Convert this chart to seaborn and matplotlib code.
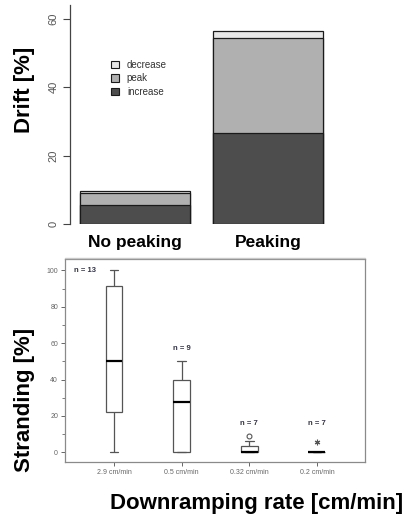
import numpy as np
import pandas as pd
import seaborn as sns
import matplotlib.pyplot as plt
from matplotlib.patches import Patch
from matplotlib.lines import Line2D

# Drift data (stacked, %)
groups = ["No peaking", "Peaking"]
increase = [5.6, 26.5]
peak = [3.6, 27.9]
decrease = [0.6, 2.2]

# Stranding data per downramping rate (%)
rates = ["2.9 cm/min", "0.5 cm/min", "0.32 cm/min", "0.2 cm/min"]
strand_29 = [0, 10, 17, 22, 33, 40, 50, 60, 75, 91.5, 95, 100, 100]
strand_05 = [0, 0, 0, 10, 27.5, 33, 40, 45, 50]
strand_032 = [0, 0, 0, 0, 0, 6.5, 9]
strand_02 = [0, 0, 0, 0, 0, 0, 5.5]

sns.set_style("white")
plt.rcParams["font.family"] = ["Liberation Sans", "DejaVu Sans"]
plt.rcParams["text.color"] = "black"

fig = plt.figure(figsize=(4.1, 5.2), dpi=100)

# ---- top panel: stacked bars ----
ax1 = fig.add_axes([0.171, 0.569, 0.66, 0.421])
drift = pd.DataFrame({"group": groups,
                      "increase": increase,
                      "peak": peak,
                      "decrease": decrease})
drift["lvl1"] = drift["increase"]
drift["lvl2"] = drift["lvl1"] + drift["peak"]
drift["lvl3"] = drift["lvl2"] + drift["decrease"]

colors = {"decrease": "#e6e6e6", "peak": "#b0b0b0", "increase": "#4d4d4d"}
# draw tallest first so the lower segments sit on top
for col, key in [("lvl3", "decrease"), ("lvl2", "peak"), ("lvl1", "increase")]:
    sns.barplot(data=drift, x="group", y=col, color=colors[key], width=0.83,
                edgecolor="#1a1a1a", linewidth=0.9, saturation=1, ax=ax1)

ax1.set_xlim(-0.492, 1.55)
ax1.set_ylim(0, 64)
ax1.set_yticks([0, 20, 40, 60])
ax1.set_xlabel("")
ax1.set_ylabel("")
sns.despine(ax=ax1, bottom=True)
ax1.spines["left"].set_color("#444")
ax1.spines["left"].set_linewidth(0.9)
ax1.tick_params(axis="y", direction="out", length=5, width=0.8, color="#444",
                labelsize=8, labelcolor="#555", labelrotation=90, left=True)
for t in ax1.get_yticklabels():
    t.set_va("center")
ax1.tick_params(axis="x", length=0, pad=8, labelcolor="black")
for t in ax1.get_xticklabels():
    t.set_fontsize(12.5)
    t.set_fontweight("bold")

handles = [Patch(facecolor=colors[k], edgecolor="#1a1a1a", linewidth=0.8, label=k)
           for k in ["decrease", "peak", "increase"]]
ax1.legend(handles=handles, loc="upper left", bbox_to_anchor=(0.12, 0.79),
           frameon=False, fontsize=7, handlelength=0.8, handleheight=0.8,
           handletextpad=0.8, labelspacing=0.35, labelcolor="#333")

fig.text(25 / 410, 1 - 89.5 / 520, "Drift [%]", rotation=90, fontsize=16,
         fontweight="bold", ha="center", va="center", color="black")

# separator line
fig.add_artist(Line2D([65 / 410, 365 / 410], [1 - 258 / 520, 1 - 258 / 520],
                      color="#c8c8c8", linewidth=1))

# ---- bottom panel: boxplot ----
ax2 = fig.add_axes([0.1585, 0.1115, 0.7317, 0.3904])
series = [strand_29, strand_05, strand_032, strand_02]
strand = pd.DataFrame({"rate": np.repeat(rates, [len(s) for s in series]),
                       "value": np.concatenate(series)})

sns.boxplot(data=strand, x="rate", y="value", order=rates, color="white",
            linecolor="#555", linewidth=0.9, width=0.25, whis=1.5,
            showfliers=False, saturation=1,
            medianprops={"color": "black", "linewidth": 1.6}, ax=ax2)

# SPSS-style outliers: circle beyond 1.5 IQR, star beyond 3 IQR
for i, s in enumerate(series):
    q1, q3 = np.percentile(s, [25, 75])
    iqr = q3 - q1
    for v in s:
        if v > q3 + 3 * iqr or v < q1 - 3 * iqr:
            ax2.plot(i, v, marker=(6, 2, 0), color="#555", markersize=4, mew=0.8)
        elif v > q3 + 1.5 * iqr or v < q1 - 1.5 * iqr:
            ax2.plot(i, v, marker="o", mfc="white", mec="#555", markersize=3.5, mew=0.8)

label_x = [-0.43, 1, 2, 3]
label_y = [100, 57, 16, 16]
for i, s in enumerate(series):
    ax2.text(label_x[i], label_y[i], f"n = {len(s)}", fontsize=5.5,
             fontweight="bold", color="#333344", ha="center", va="center")

ax2.set_xlim(-0.724, 3.71)
ax2.set_ylim(-5.3, 106.2)
ax2.set_yticks([0, 20, 40, 60, 80, 100])
ax2.set_yticks([10, 30, 50, 70, 90], minor=True)
ax2.set_xlabel("")
ax2.set_ylabel("")
for sp in ax2.spines.values():
    sp.set_visible(True)
    sp.set_color("#8a8a8a")
    sp.set_linewidth(0.9)
ax2.tick_params(axis="both", which="major", direction="out", length=3, width=0.7,
                color="#666", labelsize=5, labelcolor="#666", left=True, bottom=True, pad=2)
ax2.tick_params(axis="y", which="minor", direction="out", length=2, width=0.6,
                color="#666", left=True)

fig.text(25 / 410, 1 - 399.5 / 520, "Stranding [%]", rotation=90, fontsize=16,
         fontweight="bold", ha="center", va="center", color="black")
fig.text(403 / 410, 1 - 503 / 520, "Downramping rate [cm/min]", fontsize=16,
         fontweight="bold", ha="right", va="center", color="black")

fig.savefig("out.png", dpi=100)
